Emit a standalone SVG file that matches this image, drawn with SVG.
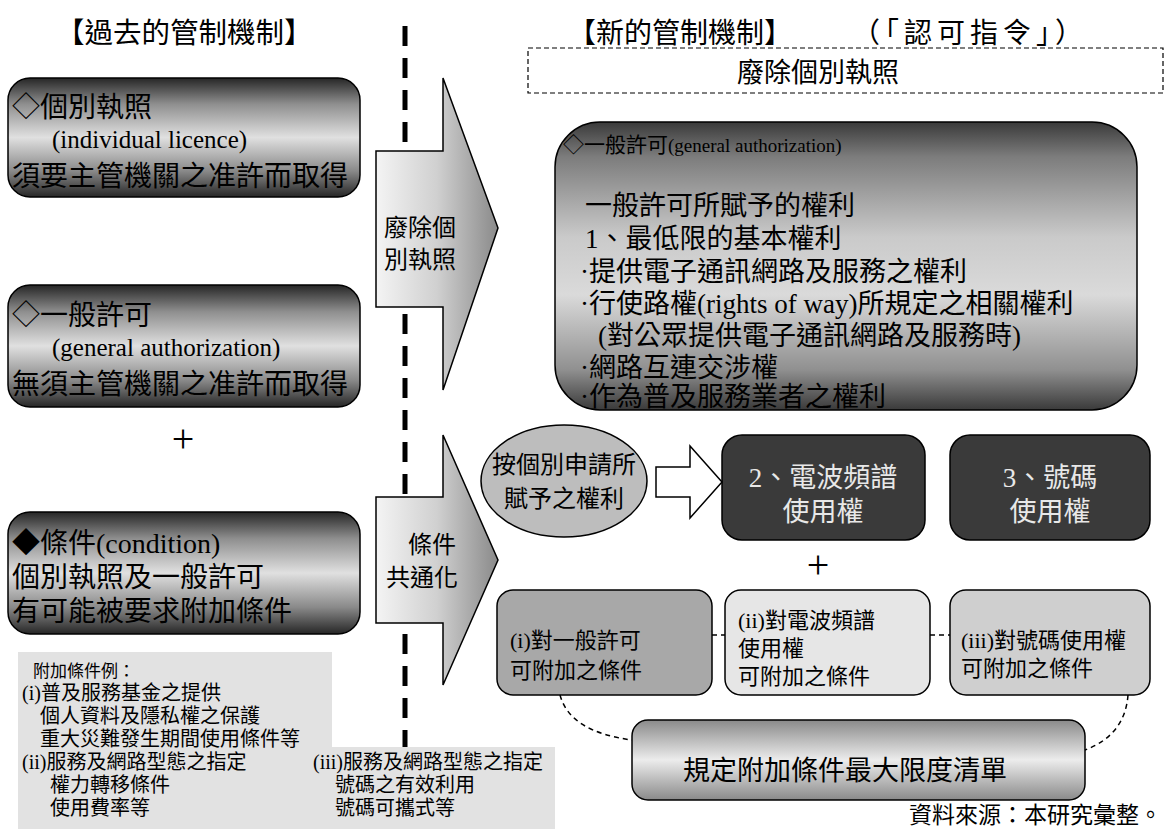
<svg xmlns="http://www.w3.org/2000/svg" width="1167" height="829" viewBox="0 0 1167 829">
<style>
text { font-family: "Liberation Serif", "Noto Sans CJK TC", serif; fill: #000; }
.t27 { font-size: 27px; }
.t28 { font-size: 28px; }
.lat { font-size: 25px; }
.t24 { font-size: 24px; }
.t22 { font-size: 22px; }
.s20 { font-size: 20px; }
.lt { fill: #e8e8e8; }
.mid { text-anchor: middle; }
.box { stroke: #000; stroke-width: 1.5; }
.dash { fill: none; stroke: #000; stroke-width: 1.5; stroke-dasharray: 5 4; }
</style>
<defs>
<linearGradient id="gDark" x1="0" y1="0" x2="0" y2="1">
<stop offset="0" stop-color="#262626"/>
<stop offset="0.22" stop-color="#8f8f8f"/>
<stop offset="0.5" stop-color="#e0e0e0"/>
<stop offset="0.78" stop-color="#8a8a8a"/>
<stop offset="1" stop-color="#262626"/>
</linearGradient>
<linearGradient id="gBig" x1="0" y1="0" x2="0" y2="1">
<stop offset="0" stop-color="#3a3a3a"/>
<stop offset="0.12" stop-color="#7c7c7c"/>
<stop offset="0.4" stop-color="#cacaca"/>
<stop offset="0.6" stop-color="#dadada"/>
<stop offset="0.86" stop-color="#909090"/>
<stop offset="1" stop-color="#3a3a3a"/>
</linearGradient>
<linearGradient id="gArrow" x1="0" y1="0" x2="1" y2="0">
<stop offset="0" stop-color="#f4f4f4"/>
<stop offset="0.5" stop-color="#d0d0d0"/>
<stop offset="1" stop-color="#8a8a8a"/>
</linearGradient>
<linearGradient id="gList" x1="0" y1="0" x2="0" y2="1">
<stop offset="0" stop-color="#8a8a8a"/>
<stop offset="0.5" stop-color="#ececec"/>
<stop offset="1" stop-color="#8a8a8a"/>
</linearGradient>
</defs>

<rect width="1167" height="829" fill="#fff"/>

<!-- titles -->
<text x="56" y="43" style="font-size:28.5px">【過去的管制機制】</text>
<text x="568" y="43" class="t28">【新的管制機制】</text>
<text x="852" y="43" class="t28" style="letter-spacing:5px">（「認可指令」）</text>

<!-- divider -->
<line x1="405" y1="26" x2="405" y2="829" stroke="#000" stroke-width="5" stroke-dasharray="20 12"/>

<!-- left nodes -->
<g id="old-individual">
<rect class="box" x="8" y="78" width="352" height="119" rx="22" fill="url(#gDark)"/>
<text class="t28" x="12" y="117">◇個別執照</text>
<text class="lat" x="52" y="148">(individual licence)</text>
<text class="t28" x="12" y="186">須要主管機關之准許而取得</text>
</g>
<g id="old-general">
<rect class="box" x="8" y="285" width="352" height="122" rx="22" fill="url(#gDark)"/>
<text class="t28" x="12" y="325">◇一般許可</text>
<text class="lat" x="52" y="356">(general authorization)</text>
<text class="t28" x="12" y="394">無須主管機關之准許而取得</text>
</g>
<text x="183" y="452" class="mid" style="font-size:40px">+</text>
<g id="old-condition">
<rect class="box" x="8" y="512" width="352" height="122" rx="22" fill="url(#gDark)"/>
<text class="t28" x="12" y="553">◆條件(condition)</text>
<text class="t28" x="12" y="587">個別執照及一般許可</text>
<text class="t28" x="12" y="621">有可能被要求附加條件</text>
</g>
<g id="examples">
<polygon points="18,652 332,652 332,747 555,747 555,829 18,829" fill="#e2e2e2"/>
<text x="33" y="677" style="font-size:17px">附加條件例：</text>
<text class="s20" x="22" y="700">(i)普及服務基金之提供</text>
<text class="s20" x="40" y="723">個人資料及隱私權之保護</text>
<text class="s20" x="40" y="746">重大災難發生期間使用條件等</text>
<text class="s20" x="22" y="769">(ii)服務及網路型態之指定</text>
<text class="s20" x="50" y="792">權力轉移條件</text>
<text class="s20" x="50" y="815">使用費率等</text>
<text class="s20" x="313" y="769">(iii)服務及網路型態之指定</text>
<text class="s20" x="335" y="792">號碼之有效利用</text>
<text class="s20" x="335" y="815">號碼可攜式等</text>
</g>

<!-- transition arrows -->
<g id="arrow-abolish">
<polygon class="box" points="376,151 443,151 443,78 498,228 443,390 443,307 376,307" fill="url(#gArrow)"/>
<text class="t24" x="384" y="236">廢除個</text>
<text class="t24" x="384" y="268">別執照</text>
</g>
<g id="arrow-common">
<polygon class="box" points="376,497 443,497 443,435 498,560 443,685 443,623 376,623" fill="url(#gArrow)"/>
<text class="t24" x="408" y="553">條件</text>
<text class="t24" x="386" y="586">共通化</text>
</g>

<!-- right nodes -->
<g id="new-abolish">
<rect x="528" y="48" width="635" height="45" fill="none" stroke="#000" stroke-width="1.2" stroke-dasharray="5 3"/>
<text class="t27 mid" x="818" y="82">廢除個別執照</text>
</g>
<g id="new-general">
<rect class="box" x="555" y="122" width="582" height="288" rx="45" fill="url(#gBig)"/>
<text x="563" y="152" style="font-size:21px">◇一般許可<tspan style="font-size:19px">(general authorization)</tspan></text>
<text class="t27" x="585" y="215">一般許可所賦予的權利</text>
<text class="t27" x="585" y="248">1、最低限的基本權利</text>
<text class="t27" x="580" y="281">·提供電子通訊網路及服務之權利</text>
<text class="t27" x="580" y="313">·行使路權(rights of way)所規定之相關權利</text>
<text class="t27" x="598" y="345">(對公眾提供電子通訊網路及服務時)</text>
<text class="t27" x="580" y="377">·網路互連交涉權</text>
<text class="t27" x="580" y="406">·作為普及服務業者之權利</text>
</g>
<g id="individual-rights">
<ellipse class="box" cx="564" cy="481" rx="83" ry="56" fill="#bdbdbd"/>
<text class="t24 mid" x="564" y="473">按個別申請所</text>
<text class="t24 mid" x="564" y="507">賦予之權利</text>
</g>
<g id="spectrum">
<rect class="box" x="722" y="435" width="203" height="105" rx="20" fill="#3a3a3a"/>
<text class="t27 mid lt" x="823" y="487">2、電波頻譜</text>
<text class="t27 mid lt" x="823" y="521">使用權</text>
</g>
<g id="numbers">
<rect class="box" x="950" y="435" width="200" height="105" rx="20" fill="#3a3a3a"/>
<text class="t27 mid lt" x="1050" y="487">3、號碼</text>
<text class="t27 mid lt" x="1050" y="521">使用權</text>
</g>
<text x="818" y="578" class="mid" style="font-size:40px">+</text>
<g id="cond-general">
<rect class="box" x="497" y="590" width="215" height="105" rx="16" fill="#a8a8a8"/>
<text class="t22" x="510" y="648">(i)對一般許可</text>
<text class="t22" x="510" y="678">可附加之條件</text>
</g>
<g id="cond-spectrum">
<rect class="box" x="725" y="590" width="205" height="105" rx="16" fill="#e6e6e6"/>
<text class="t22" x="738" y="628">(ii)對電波頻譜</text>
<text class="t22" x="738" y="656">使用權</text>
<text class="t22" x="738" y="684">可附加之條件</text>
</g>
<g id="cond-numbers">
<rect class="box" x="950" y="590" width="200" height="105" rx="16" fill="#cfcfcf"/>
<text class="t22" x="961" y="648">(iii)對號碼使用權</text>
<text class="t22" x="961" y="676">可附加之條件</text>
</g>
<g id="max-list">
<rect class="box" x="632" y="720" width="453" height="80" rx="16" fill="url(#gList)"/>
<text class="t27 mid" x="845" y="780">規定附加條件最大限度清單</text>
</g>

<!-- connectors -->
<g id="connectors">
<polygon points="656,467 690,467 690,446 722,482 690,518 690,497 656,497" fill="#fff" stroke="#000" stroke-width="1.5"/>
<line class="dash" x1="712" y1="635" x2="725" y2="635"/>
<line class="dash" x1="930" y1="635" x2="950" y2="635"/>
<path class="dash" d="M560,695 Q570,732 632,740"/>
<path class="dash" d="M1128,695 Q1125,735 1085,750"/>
</g>

<text x="1162" y="823" style="font-size:23px; text-anchor:end">資料來源：本研究彙整。</text>
</svg>
